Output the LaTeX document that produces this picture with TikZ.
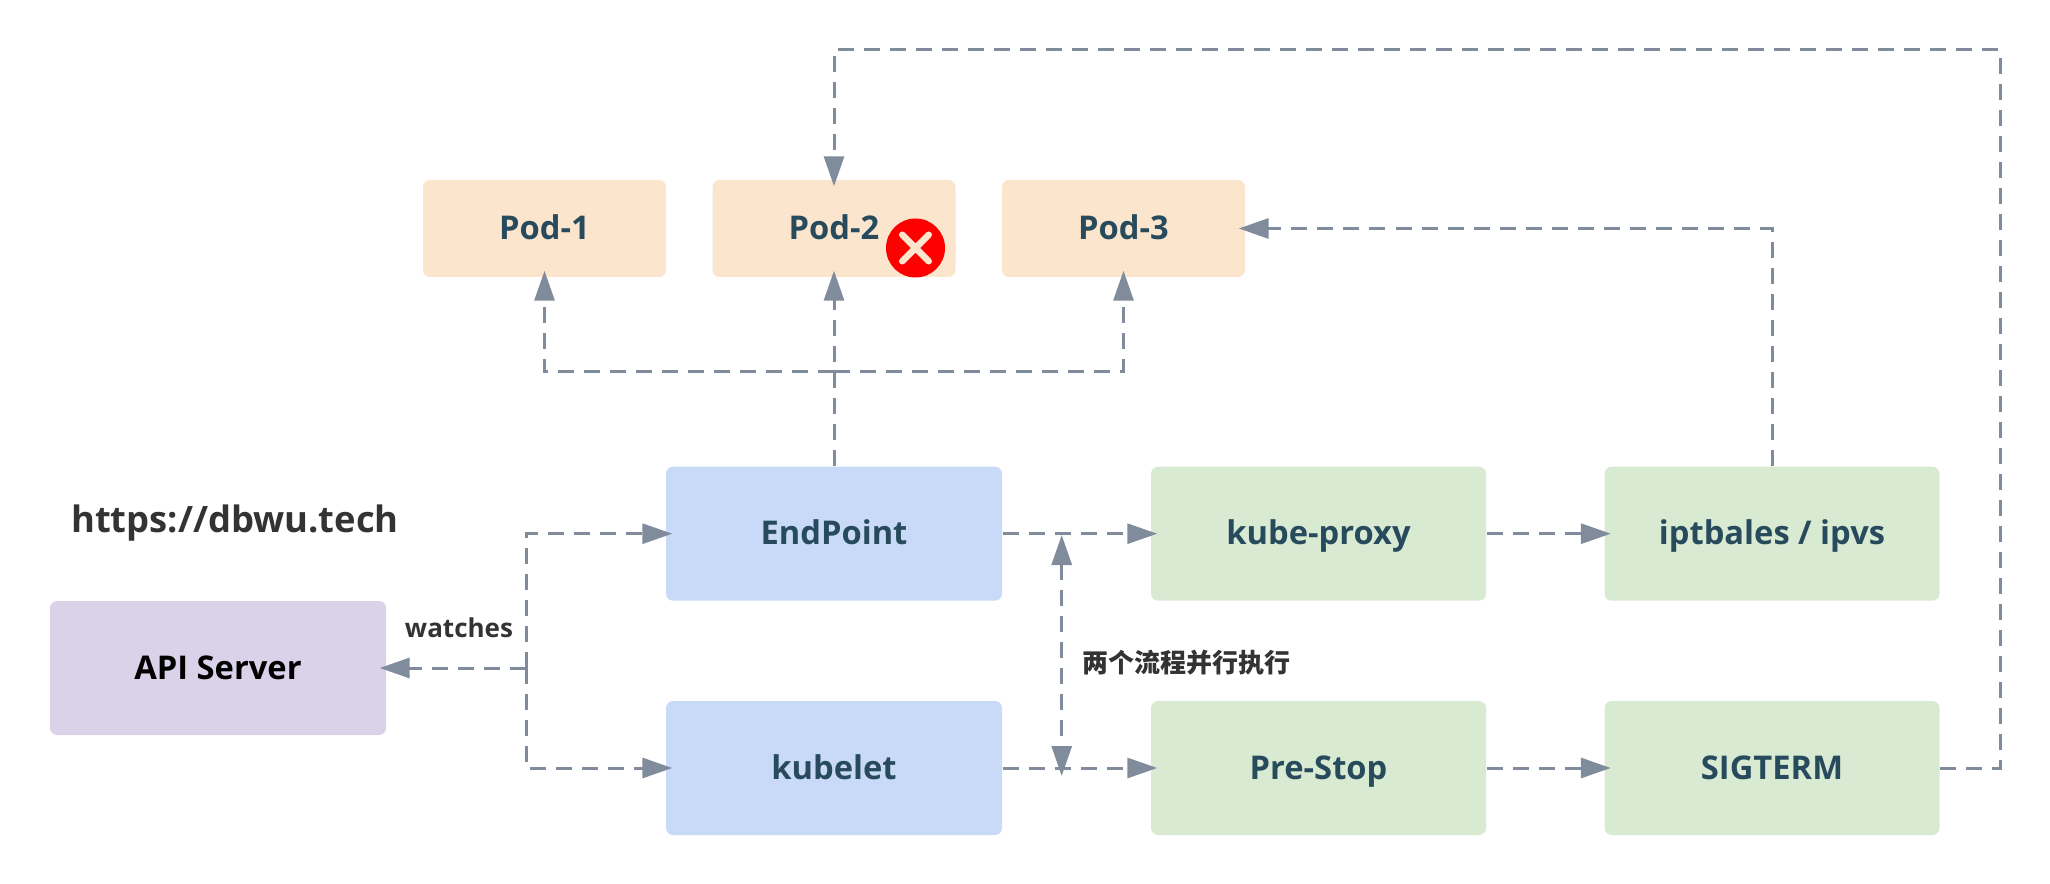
\documentclass[tikz,border=0pt]{standalone}
\usepackage{fontspec}
\setmainfont{Open Sans}
\newfontfamily\cjk{Noto Sans CJK SC}
\usetikzlibrary{arrows.meta,shapes.misc}
\definecolor{podfill}{HTML}{FCE5CD}
\definecolor{bluefill}{HTML}{C9DAF8}
\definecolor{greenfill}{HTML}{D9EAD3}
\definecolor{apifill}{HTML}{D9D2E9}
\definecolor{boxtext}{HTML}{274B5C}
\definecolor{flowgray}{HTML}{808C9C}
\definecolor{notetext}{HTML}{333333}
\tikzset{
	card/.style={rounded corners=0.07cm, inner sep=0pt, text=boxtext, text height=0.30cm, text depth=0.08cm, font=\fontsize{9.3}{11}\selectfont\bfseries},
	podbox/.style={card, fill=podfill, minimum width=2.43cm, minimum height=0.97cm},
	bluebox/.style={card, fill=bluefill, minimum width=3.36cm, minimum height=1.34cm},
	greenbox/.style={card, fill=greenfill, minimum width=3.35cm, minimum height=1.34cm},
	note/.style={inner sep=0pt, text=notetext, font=\fontsize{7.4}{9}\selectfont\bfseries},
	flow/.style={draw=flowgray, line width=0.03cm, dash pattern=on 0.16cm off 0.1cm},
	flowarrow/.style={flow, -{Triangle[length=0.3cm, width=0.2cm]}, shorten >=-0.07cm},
}
\begin{document}
\begin{tikzpicture}[]
	\useasboundingbox (0,0) rectangle (20.5,-8.84);
	% top row
	\node [podbox] (pod1) at (5.445,-2.285) {Pod-1};
	\node [podbox] (pod2) at (8.34,-2.285) {Pod-2};
	\node [podbox] (pod3) at (11.235,-2.285) {Pod-3};
	% two flows
	\node [bluebox] (endpoint) at (8.34,-5.337) {EndPoint};
	\node [bluebox] (kubelet) at (8.34,-7.68) {kubelet};
	\node [greenbox] (proxy) at (13.185,-5.337) {kube-proxy};
	\node [greenbox] (iptables) at (17.72,-5.337) {iptbales / ipvs};
	\node [greenbox] (prestop) at (13.185,-7.68) {Pre-Stop};
	\node [greenbox] (sigterm) at (17.72,-7.68) {SIGTERM};
	\node [card, fill=apifill, text=black, minimum width=3.36cm, minimum height=1.34cm] (api) at (2.18,-6.68) {API Server};
	% labels
	\node [note, font=\fontsize{10.35}{12}\selectfont\bfseries] (site) at (2.35,-5.23) {https://dbwu.tech};
	\node [note] (watches) at (4.59,-6.275) {watches};
	\node [note, anchor=west] (parallel) at (10.82,-6.63) {\cjk 两个流程并行执行};
	% bends
	\coordinate (split) at (8.34,-3.717);
	\coordinate (hub) at (5.26,-6.68);
	\coordinate (paralleltop) at (10.617,-5.35);
	\coordinate (parallelbottom) at (10.617,-7.76);
	\coordinate (outerright) at (20,-7.68);
	\coordinate (outertop) at (20,-0.5);
	\coordinate (proxyturn) at (17.72,-2.285);
	% connectors
	\draw [flowarrow] (endpoint.north) -- (pod2.south);
	\draw [flowarrow] (split) -| (pod1.south);
	\draw [flowarrow] (split) -| (pod3.south);
	\draw [flowarrow] (hub) -- (api.east);
	\draw [flowarrow] (hub) |- (endpoint.west);
	\draw [flowarrow] (hub) |- (kubelet.west);
	\draw [flowarrow] (endpoint.east) -- (proxy.west);
	\draw [flowarrow] (proxy.east) -- (iptables.west);
	\draw [flowarrow] (kubelet.east) -- (prestop.west);
	\draw [flowarrow] (prestop.east) -- (sigterm.west);
	\draw [flowarrow] (iptables.north) -- (proxyturn) -- (pod3.east);
	\draw [flowarrow] (sigterm.east) -- (outerright) -- (outertop) -| (pod2.north);
	\draw [flow, {Triangle[length=0.3cm, width=0.2cm]}-{Triangle[length=0.3cm, width=0.2cm]}] (paralleltop) -- (parallelbottom);
	% failed pod mark
	\node [circle, fill=red, inner sep=0pt, minimum size=0.59cm] (failmark) at (9.155,-2.48) {};
	\node [cross out, draw=podfill, line width=0.065cm, line cap=round, inner sep=0pt, minimum size=0.2cm] (failcross) at (failmark) {};
\end{tikzpicture}
\end{document}
